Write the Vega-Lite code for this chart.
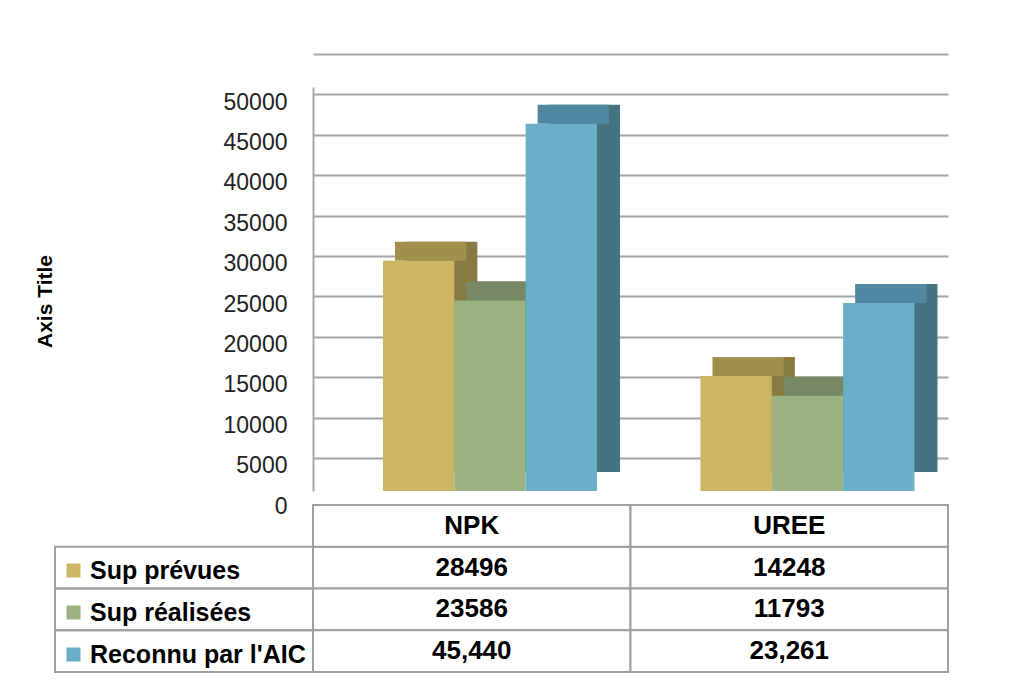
{
  "$schema": "https://vega.github.io/schema/vega-lite/v6.json",
  "padding": {"left": 34, "top": 87, "right": 10, "bottom": 10},
  "background": "white",
  "config": {"view": {"stroke": null}, "font": "Liberation Sans"},
  "datasets": {
    "bars": [
      {"category": "NPK", "series": "Sup prévues", "value": 28496, "label": "28496"},
      {"category": "NPK", "series": "Sup réalisées", "value": 23586, "label": "23586"},
      {"category": "NPK", "series": "Reconnu par l'AIC", "value": 45440, "label": "45,440"},
      {"category": "UREE", "series": "Sup prévues", "value": 14248, "label": "14248"},
      {"category": "UREE", "series": "Sup réalisées", "value": 11793, "label": "11793"},
      {"category": "UREE", "series": "Reconnu par l'AIC", "value": 23261, "label": "23,261"}
    ]
  },
  "columns": 2,
  "spacing": {"row": 14, "column": 0},
  "bounds": "flush",
  "concat": [
    {"width": 258, "height": 404, "data": {"values": []}, "mark": "point"},
    {
      "width": 635,
      "height": 404,
      "data": {"name": "bars"},
      "encoding": {
        "x": {"field": "category", "type": "nominal", "axis": null, "sort": ["NPK", "UREE"], "scale": {"paddingInner": 0, "paddingOuter": 0}},
        "y": {
          "field": "value", "type": "quantitative",
          "scale": {"domain": [0, 50000], "nice": false},
          "axis": {
            "values": [0, 5000, 10000, 15000, 20000, 25000, 30000, 35000, 40000, 45000, 50000],
            "format": "d", "grid": true, "gridColor": "#a6a6a6", "gridWidth": 2,
            "tickOffset": -33, "labelOffset": 48,
            "domain": true, "domainColor": "#a6a6a6", "domainWidth": 2, "ticks": false,
            "labelPadding": 26, "labelFontSize": 23, "labelColor": "#222", "labelFont": "Liberation Sans",
            "title": "Axis Title", "titleFontSize": 21, "titleFont": "Liberation Sans", "titleFontWeight": "bold", "titleColor": "#000", "titlePadding": 168, "titleY": 214
          }
        }
      },
      "resolve": {"scale": {"xOffset": "independent"}},
      "layer": [
        {
          "mark": {"type": "bar", "yOffset": -19, "y2Offset": -19},
          "encoding": {
            "xOffset": {"field": "series", "type": "nominal", "sort": ["Sup prévues", "Sup réalisées", "Reconnu par l'AIC"], "scale": {"paddingInner": 0, "paddingOuter": 0.7256, "align": 0.8986}},
            "fill": {"condition": [{"test": "datum.series === 'Sup prévues'", "value": "#877A42"}, {"test": "datum.series === 'Sup réalisées'", "value": "#6E7F5C"}], "value": "#457380"}
          }
        },
        {
          "mark": {"type": "bar", "yOffset": -19},
          "encoding": {
            "xOffset": {"field": "series", "type": "nominal", "sort": ["Sup prévues", "Sup réalisées", "Reconnu par l'AIC"], "scale": {"paddingInner": 0, "paddingOuter": 0.7256, "align": 0.792}},
            "y2": {"field": "value"},
            "fill": {"condition": [{"test": "datum.series === 'Sup prévues'", "value": "#A08F4D"}, {"test": "datum.series === 'Sup réalisées'", "value": "#788A63"}], "value": "#5187A0"}
          }
        },
        {
          "mark": {"type": "bar"},
          "encoding": {
            "xOffset": {"field": "series", "type": "nominal", "sort": ["Sup prévues", "Sup réalisées", "Reconnu par l'AIC"], "scale": {"paddingInner": 0, "paddingOuter": 0.7256, "align": 0.676}},
            "fill": {
              "field": "series", "type": "nominal",
              "scale": {"domain": ["Sup prévues", "Sup réalisées", "Reconnu par l'AIC"], "range": ["#CDB663", "#9BB282", "#6BAEC8"]},
              "legend": {
                "orient": "none", "legendX": 6, "legendY": 471, "title": null, "direction": "vertical",
                "symbolType": "square", "symbolSize": 196, "symbolStrokeWidth": 0,
                "labelFontSize": 25, "labelFontWeight": "bold", "labelFont": "Liberation Sans", "labelColor": "#000",
                "rowPadding": 16, "labelOffset": 4, "padding": 0, "labelLimit": 0
              }
            }
          }
        }
      ]
    },
    {
      "width": 258,
      "height": 167,
      "data": {"name": "bars"},
      "transform": [{"filter": "datum.category === 'NPK'"}],
      "mark": {"type": "rect", "fill": "transparent", "stroke": "#a0a0a0", "strokeWidth": 2},
      "encoding": {
        "y": {"field": "series", "type": "nominal", "axis": null, "scale": {"domain": ["hdr", "Sup prévues", "Sup réalisées", "Reconnu par l'AIC"], "paddingInner": 0, "paddingOuter": 0}}
      }
    },
    {
      "width": 635,
      "height": 167,
      "data": {"name": "bars"},
      "encoding": {
        "x": {"field": "category", "type": "nominal", "axis": null, "sort": ["NPK", "UREE"], "scale": {"paddingInner": 0, "paddingOuter": 0}}
      },
      "layer": [
        {
          "mark": {"type": "rect", "fill": "white", "stroke": "#a0a0a0", "strokeWidth": 2},
          "encoding": {"y": {"field": "series", "type": "nominal", "axis": null, "scale": {"domain": ["hdr", "Sup prévues", "Sup réalisées", "Reconnu par l'AIC"], "paddingInner": 0, "paddingOuter": 0}}}
        },
        {
          "transform": [{"filter": "datum.series === 'Sup prévues'"}],
          "mark": {"type": "rect", "fill": "white", "stroke": "#a0a0a0", "strokeWidth": 2},
          "encoding": {"y": {"datum": "hdr", "type": "nominal"}}
        },
        {
          "mark": {"type": "text", "fontSize": 26, "fontWeight": "bold", "font": "Liberation Sans", "color": "#000"},
          "encoding": {"y": {"field": "series", "type": "nominal"}, "text": {"field": "label"}}
        },
        {
          "transform": [{"filter": "datum.series === 'Sup prévues'"}],
          "mark": {"type": "text", "fontSize": 26, "fontWeight": "bold", "font": "Liberation Sans", "color": "#000"},
          "encoding": {"y": {"datum": "hdr", "type": "nominal"}, "text": {"field": "category"}}
        }
      ]
    }
  ]
}
